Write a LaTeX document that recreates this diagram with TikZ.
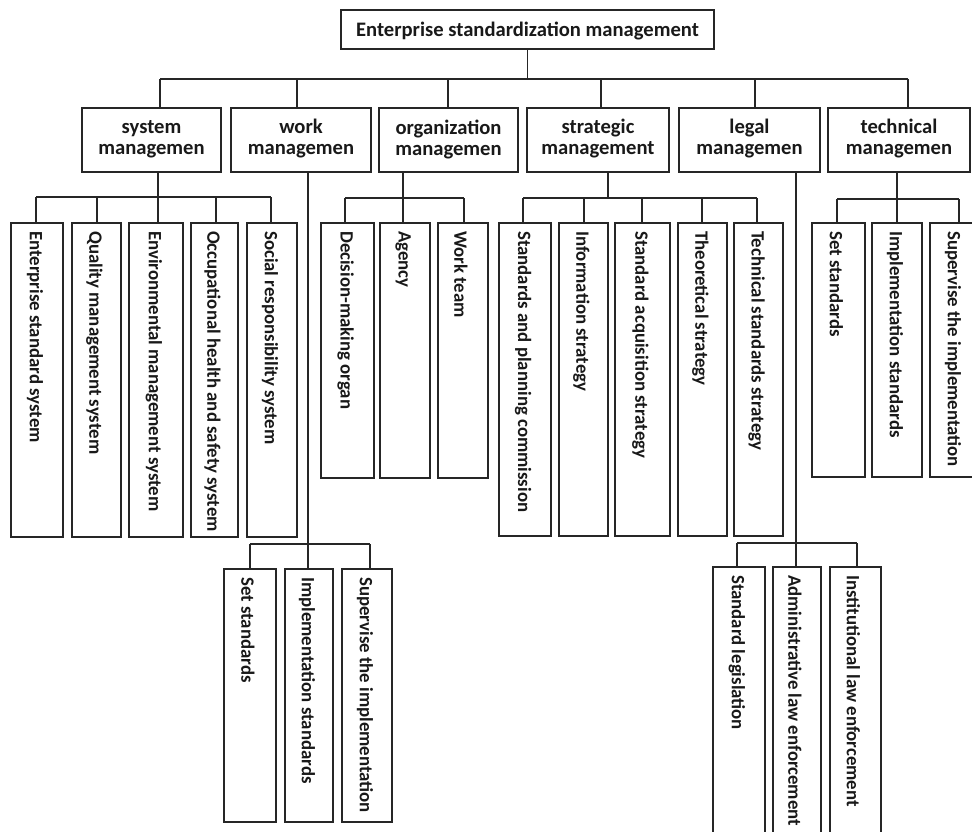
\documentclass[tikz,border=0pt]{standalone}
\usepackage{fontspec}
\setmainfont{Carlito}
\tikzset{
  box/.style={draw=black!85, line width=1.3pt, rectangle, inner sep=0pt, outer sep=0pt},
  conn/.style={draw=black!85, line width=1.8pt},
  vtext/.style={rotate=-90, anchor=west, inner sep=0pt, font=\bfseries\fontsize{18.8}{18.8}\selectfont, text=black!90},
  headtext/.style={align=center, inner sep=0pt, font=\bfseries\fontsize{20.6}{21}\selectfont, text=black!90}
}
% name x1 x2 y1 y2
\newcommand\bx[5]{\node[box, minimum width={#3-#2}, minimum height={#5-#4}] (#1) at ({(#2+#3)/2},{(#4+#5)/2}) {};}
% name x1 x2 y1 y2 dropX busY text
\newcommand\leaf[8]{%
  \bx{#1}{#2}{#3}{#4}{#5}%
  \pgfmathsetmacro\dd{#6-(#2+#3)/2}%
  \pgfmathsetmacro\hh{#7-#4}%
  \draw[conn] ([xshift=\dd pt]#1.north) -- ++(0,\hh) coordinate (#1j);%
  \node[vtext] (#1t) at ([xshift=-2pt,yshift=-8pt]#1.north) {#8};}
% name x1 x2 dropX(top) dropX(bottom) text
\newcommand\head[6]{%
  \bx{#1}{#2}{#3}{108}{172}%
  \pgfmathsetmacro\dd{#4-(#2+#3)/2}%
  \draw[conn] ([xshift=\dd pt]#1.north) -- ++(0,-29) coordinate (#1j);%
  \pgfmathsetmacro\dd{#5-(#2+#3)/2}%
  \coordinate (#1d) at ([xshift=\dd pt]#1.south);%
  \node[headtext] (#1t) at ([yshift=1pt]#1) {#6};}
\begin{document}
\begin{tikzpicture}[x=1pt,y=-1pt]
\useasboundingbox (0,0) rectangle (972,831);
\clip (0,0) rectangle (972,831);
\fill[white] (0,0) rectangle (972,831);

% root
\bx{root}{341}{714}{10}{49}
\node[headtext] (roott) at ([yshift=-1pt]root) {Enterprise standardization management};

% second level
\head{sys}{82}{221}{160}{158}{system\\managemen}
\head{work}{231}{371}{297}{308}{work\\managemen}
\head{org}{379}{518}{448}{403}{organization\\managemen}
\head{strat}{527}{669}{601}{608}{strategic\\management}
\head{legal}{679}{820}{755}{796}{legal\\managemen}
\head{tech}{828}{970}{908}{897}{technical\\managemen}

\draw[conn] (root.south) -- (root.south |- sysj);
\draw[conn] (sysj) -- (techj);

% system children
\leaf{s1}{11}{63}{223}{537}{36}{197}{Enterprise standard system}
\leaf{s2}{72}{121}{223}{537}{97}{197}{Quality management system}
\leaf{s3}{129}{183}{223}{537}{158}{197}{Environmental management system}
\leaf{s4}{191}{238}{223}{537}{216}{197}{Occupational health and safety system}
\leaf{s5}{247}{297}{223}{537}{271}{197}{Social responsibility system}
\draw[conn] (s1j) -- (s5j);
\draw[conn] (sysd) -- (sysd |- s3j);

% work children
\leaf{w1}{224}{276}{569}{822}{250}{544}{Set standards}
\leaf{w2}{285}{333}{569}{822}{308}{544}{Implementation standards}
\leaf{w3}{342}{392}{569}{822}{370}{544}{Supervise the implementation}
\draw[conn] (w1j) -- (w3j);
\draw[conn] (workd) -- (workd |- w2j);

% organization children
\leaf{o1}{321}{374}{223}{478}{345}{198}{Decision-making organ}
\leaf{o2}{380}{430}{223}{478}{403}{198}{Agency}
\leaf{o3}{438}{488}{223}{478}{464}{198}{Work team}
\draw[conn] (o1j) -- (o3j);
\draw[conn] (orgd) -- (orgd |- o2j);

% strategic children
\leaf{t1}{499}{551}{223}{536}{523}{198}{Standards and planning commission}
\leaf{t2}{559}{608}{223}{536}{584}{198}{Information strategy}
\leaf{t3}{615}{670}{223}{536}{642}{198}{Standard acquisition strategy}
\leaf{t4}{678}{727}{223}{536}{702}{198}{Theoretical strategy}
\leaf{t5}{734}{783}{223}{536}{757}{198}{Technical standards strategy}
\draw[conn] (t1j) -- (t5j);
\draw[conn] (stratd) -- (stratd |- t1j);

% legal children
\leaf{l1}{713}{765}{567}{860}{737}{543}{Standard legislation}
\leaf{l2}{773}{821}{567}{860}{796}{543}{Administrative law enforcement}
\leaf{l3}{830}{881}{567}{860}{857}{543}{Institutional law enforcement}
\draw[conn] (l1j) -- (l3j);
\draw[conn] (legald) -- (legald |- l2j);

% technical children
\leaf{h1}{812}{865}{223}{477}{837}{199}{Set standards}
\leaf{h2}{872}{922}{223}{477}{897}{199}{Implementation standards}
\leaf{h3}{930}{980}{223}{477}{959}{199}{Supervise the implementation}
\draw[conn] (h1j) -- (h3j);
\draw[conn] (techd) -- (techd |- h2j);
\end{tikzpicture}
\end{document}
